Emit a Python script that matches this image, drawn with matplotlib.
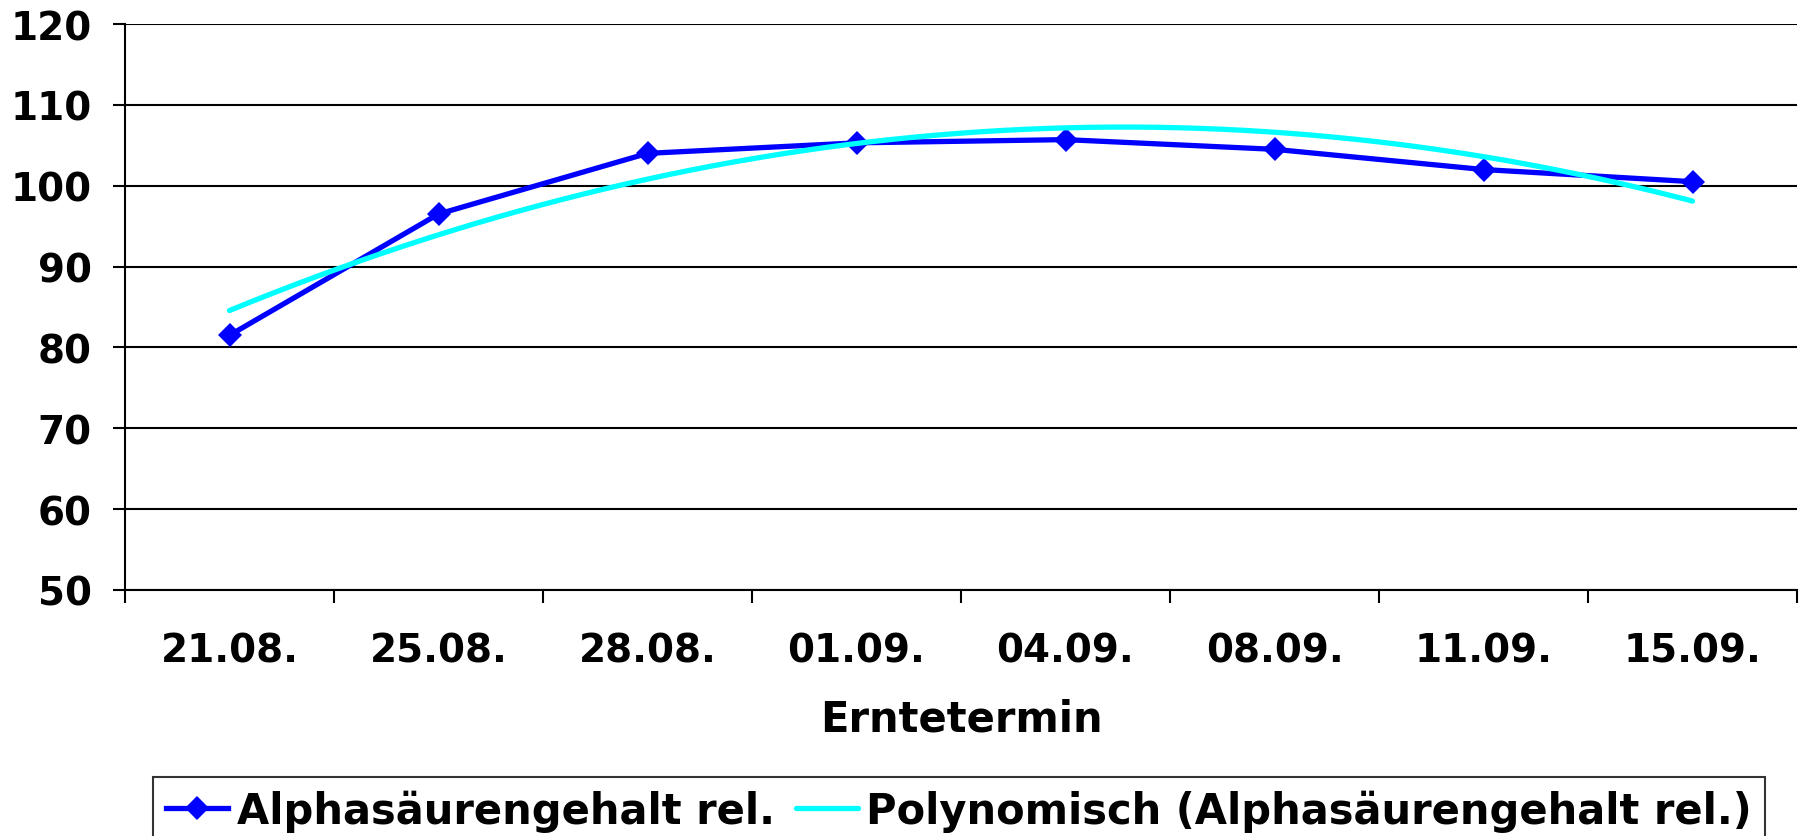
import matplotlib
matplotlib.use("Agg")
import matplotlib.pyplot as plt
import numpy as np

# Erntetermine und relativer Alphasäurengehalt
termine = ["21.08.", "25.08.", "28.08.", "01.09.", "04.09.", "08.09.", "11.09.", "15.09."]
alpha_rel = [81.5, 96.5, 104.0, 105.3, 105.7, 104.5, 102.0, 100.5]
y_ticks = [50, 60, 70, 80, 90, 100, 110, 120]

plt.rcParams['font.family'] = ['DejaVu Sans']
plt.rcParams['font.weight'] = 'bold'
fs = 28
fs_big = 30

fig = plt.figure(figsize=(18.05, 8.37), dpi=100)
ax = fig.add_axes([125 / 1805, 1 - 591 / 837, (1797 - 125) / 1805, (591 - 25) / 837])

x = np.arange(1, len(termine) + 1)

# polynomische Trendlinie (2. Ordnung) wie in Excel
coef = np.polyfit(x, alpha_rel, 2)
xs = np.linspace(1, len(termine), 200)
ys = np.polyval(coef, xs)

l1, = ax.plot(x, alpha_rel, color='#0000ff', linewidth=3.8, marker='D',
              markersize=12, markeredgewidth=0, zorder=3,
              label='Alphasäurengehalt rel.')
l2, = ax.plot(xs, ys, color='#00ffff', linewidth=3.8, zorder=4,
              solid_capstyle='round',
              label='Polynomisch (Alphasäurengehalt rel.)')

ax.set_xlim(0.5, len(termine) + 0.5)
ax.set_ylim(50, 120)
ax.set_yticks(y_ticks)
ax.set_yticklabels([str(v) for v in y_ticks], fontsize=fs, fontweight='bold')
ax.set_xticks(x)
ax.set_xticklabels(termine, fontsize=fs, fontweight='bold')
ax.set_xticks(np.arange(0.5, len(termine) + 1, 1), minor=True)

ax.tick_params(axis='x', which='major', length=0, pad=30)
ax.tick_params(axis='x', which='minor', length=9.5, width=1.5, direction='out')
ax.tick_params(axis='y', length=9, width=1.5, direction='out', pad=15)

ax.grid(axis='y', color='black', linewidth=1.5)
ax.set_axisbelow(True)
for s in ['top', 'right']:
    ax.spines[s].set_visible(False)
for s in ['left', 'bottom']:
    ax.spines[s].set_linewidth(1.5)
    ax.spines[s].set_color('black')

ax.set_xlabel('Erntetermin', fontsize=fs_big, fontweight='bold', labelpad=20)

leg = fig.legend(handles=[l1, l2], loc='upper center',
                 bbox_to_anchor=(959 / 1805, 1 - 778 / 837),
                 ncol=2, fontsize=fs_big, frameon=True, fancybox=False,
                 edgecolor='black', handlelength=1.5, handletextpad=0.2,
                 columnspacing=0.5, borderpad=0.3, borderaxespad=0)
leg.get_frame().set_linewidth(1.5)
for t in leg.get_texts():
    t.set_fontweight('bold')

fig.savefig('out.png', dpi=100)
